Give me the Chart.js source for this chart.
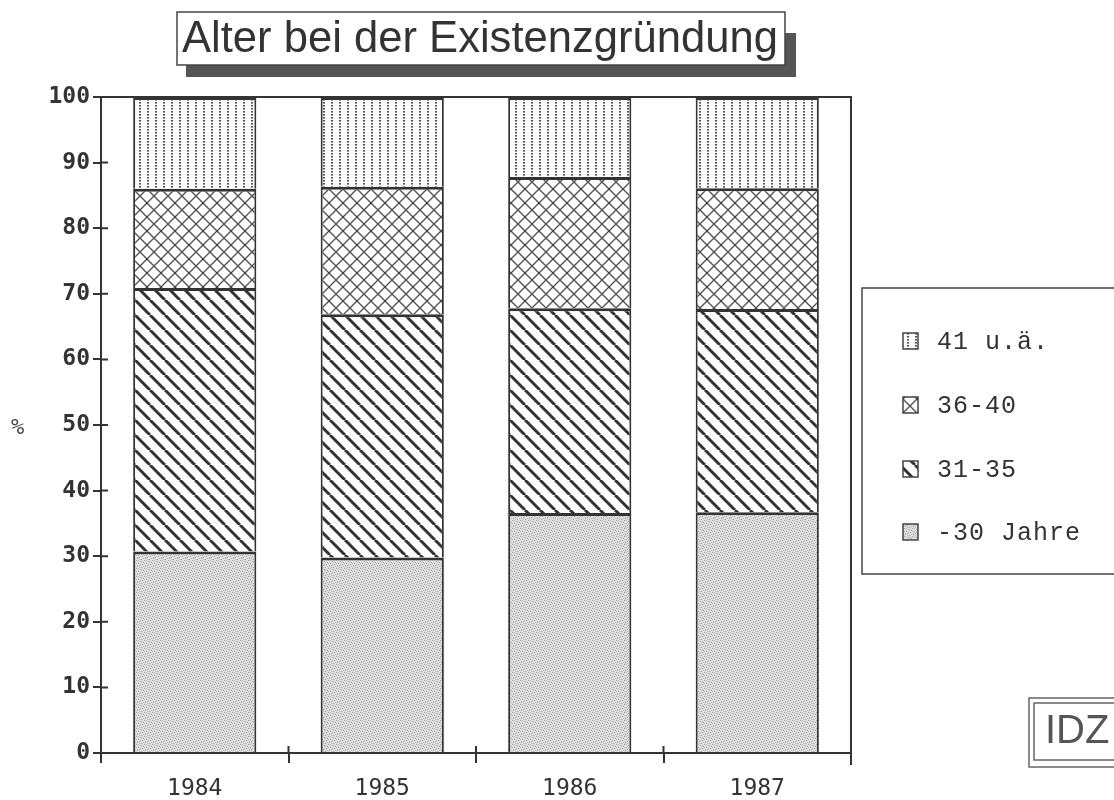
<!DOCTYPE html>
<html>
<head>
<meta charset="utf-8">
<script src="https://cdn.jsdelivr.net/npm/chart.js@4"></script>
<style>
  body { margin: 0; background: #fff; }
  canvas { display: block; }
</style>
</head>
<body>
<canvas id="myChart" width="1114" height="800"></canvas>
<script>
// values (percent per year)
const years = ['1984', '1985', '1986', '1987'];
const seriesLabels = ['-30 Jahre', '31-35', '36-40', '41 u.ä.'];
const under30 = [30.7, 29.8, 36.6, 36.7];
const age31to35 = [40.2, 37.1, 31.2, 31.0];
const age36to40 = [15.1, 19.4, 20.0, 18.4];
const over41 = [14.0, 13.7, 12.2, 13.9];
const yTicks = [0, 10, 20, 30, 40, 50, 60, 70, 80, 90, 100];

const ctx = document.getElementById('myChart').getContext('2d');

function makePattern(w, h, draw) {
    const c = document.createElement('canvas');
    c.width = w;
    c.height = h;
    const g = c.getContext('2d');
    draw(g, w, h);
    return ctx.createPattern(c, 'repeat');
}

// fine grey stipple
const stipple = makePattern(8, 8, (g, w, h) => {
    g.fillStyle = '#dcdcdc';
    g.fillRect(0, 0, w, h);
    g.fillStyle = '#a6a6a6';
    [[0, 0], [4, 1], [2, 3], [6, 4], [1, 6], [5, 7], [3, 5], [7, 2]].forEach(p => g.fillRect(p[0], p[1], 1, 1));
    g.fillStyle = '#c0c0c0';
    [[2, 0], [6, 1], [0, 3], [4, 4], [7, 6], [3, 7], [5, 2], [1, 5]].forEach(p => g.fillRect(p[0], p[1], 1, 1));
});

// diagonal "\" lines
const diagonal = makePattern(15, 15, (g, w, h) => {
    g.fillStyle = '#fff';
    g.fillRect(0, 0, w, h);
    g.strokeStyle = '#333';
    g.lineWidth = 3;
    [-15, 0, 15].forEach(o => {
        g.beginPath();
        g.moveTo(o, 0);
        g.lineTo(o + 15, 15);
        g.stroke();
    });
});

// cross hatch
const crossHatch = makePattern(14, 14, (g, w, h) => {
    g.fillStyle = '#fff';
    g.fillRect(0, 0, w, h);
    g.strokeStyle = '#555';
    g.lineWidth = 1.4;
    g.beginPath();
    g.moveTo(0, 0); g.lineTo(14, 14);
    g.moveTo(14, 0); g.lineTo(0, 14);
    g.stroke();
    g.fillStyle = '#444';
    g.fillRect(6, 6, 2, 2);
});

// vertical dotted lines
const dotted = makePattern(8, 3, (g, w, h) => {
    g.fillStyle = '#fbfbfb';
    g.fillRect(0, 0, w, h);
    g.fillStyle = '#555';
    g.fillRect(3, 0, 2, 1.6);
});

const fills = [stipple, diagonal, crossHatch, dotted];
const values = [under30, age31to35, age36to40, over41];

const datasets = values.map((arr, i) => ({
    label: seriesLabels[i],
    data: arr,
    backgroundColor: fills[i],
    borderColor: '#333',
    borderWidth: { top: 3, left: 2, right: 2, bottom: 0 },
    borderSkipped: false,
    barPercentage: 0.657,
    categoryPercentage: 1
}));

const decorations = {
    id: 'decorations',
    afterDraw(chart) {
        const c = chart.ctx;
        const area = chart.chartArea;
        const x = chart.scales.x;
        const y = chart.scales.y;
        c.save();
        c.strokeStyle = '#333';
        c.lineWidth = 2;

        // frame top and right
        c.beginPath();
        c.moveTo(area.left, area.top);
        c.lineTo(area.right, area.top);
        c.lineTo(area.right, area.bottom + 12);
        c.stroke();

        // inner halves of the "+" ticks
        c.beginPath();
        y.ticks.forEach((t, i) => {
            const py = y.getPixelForTick(i);
            c.moveTo(area.left, py);
            c.lineTo(area.left + 7, py);
        });
        for (let i = 1; i <= years.length; i++) {
            const px = i < years.length
                ? (x.getPixelForTick(i - 1) + x.getPixelForTick(i)) / 2
                : area.right;
            c.moveTo(px, area.bottom);
            c.lineTo(px, area.bottom - 7);
        }
        c.stroke();

        // % label
        c.fillStyle = '#444';
        c.font = '22px "DejaVu Sans Mono"';
        c.textAlign = 'left';
        c.textBaseline = 'middle';
        c.fillText('%', 11, 428);

        // title box with shadow
        c.fillStyle = '#555';
        c.fillRect(186, 65, 610, 12);
        c.fillRect(785, 33, 11, 44);
        c.fillStyle = '#fff';
        c.fillRect(177, 12, 608, 53);
        c.lineWidth = 1.5;
        c.strokeStyle = '#444';
        c.strokeRect(177, 12, 608, 53);
        const title = 'Alter bei der Existenzgründung';
        c.font = '42px "Liberation Sans"';
        const tw = c.measureText(title).width;
        const size = 42 * 596 / tw;
        c.font = size + 'px "Liberation Sans"';
        c.fillStyle = '#333';
        c.textBaseline = 'alphabetic';
        c.fillText(title, 182, 52);

        // legend box
        c.strokeStyle = '#444';
        c.lineWidth = 1.5;
        c.strokeRect(862, 288, 270, 286);
        const rows = [341, 405, 469, 532];
        const order = chart.data.datasets.slice().reverse();
        c.font = '25px "Liberation Mono"';
        c.letterSpacing = '1px';
        c.textBaseline = 'middle';
        order.forEach((ds, i) => {
            c.fillStyle = ds.backgroundColor;
            c.fillRect(903, rows[i] - 8, 15, 16);
            c.strokeStyle = '#444';
            c.lineWidth = 1.5;
            c.strokeRect(903, rows[i] - 8, 15, 16);
            c.fillStyle = '#333';
            c.fillText(ds.label, 937, rows[i] + 1);
        });
        c.letterSpacing = '0px';

        // IDZ mark
        c.strokeStyle = '#666';
        c.lineWidth = 1.5;
        c.strokeRect(1029, 698, 100, 69);
        c.strokeRect(1034, 703, 100, 57);
        c.fillStyle = '#555';
        c.font = '40px "Liberation Sans"';
        c.textBaseline = 'alphabetic';
        c.fillText('IDZ', 1045, 743);
        c.restore();
    }
};

const myChart = new Chart(ctx, {
    type: 'bar',
    data: {
        labels: years,
        datasets: datasets
    },
    options: {
        responsive: false,
        animation: false,
        layout: {
            padding: { top: 97, right: 263, left: 0, bottom: 0 }
        },
        plugins: {
            legend: { display: false },
            tooltip: { enabled: false }
        },
        scales: {
            x: {
                stacked: true,
                grid: {
                    offset: true,
                    drawOnChartArea: false,
                    tickLength: 10,
                    color: '#333',
                    lineWidth: 2
                },
                border: { color: '#333', width: 2 },
                ticks: {
                    padding: 12,
                    color: '#333',
                    font: { family: 'DejaVu Sans Mono', size: 23 }
                },
                afterFit(scale) { scale.height = 47; }
            },
            y: {
                stacked: true,
                min: 0,
                max: 100,
                afterBuildTicks(scale) {
                    scale.ticks = yTicks.map(v => ({ value: v }));
                },
                grid: {
                    drawOnChartArea: false,
                    tickLength: 8,
                    color: '#333',
                    lineWidth: 2
                },
                border: { color: '#333', width: 2 },
                ticks: {
                    padding: 3,
                    color: '#333',
                    font: { family: 'DejaVu Sans Mono', size: 23, weight: 'bold' }
                },
                afterFit(scale) { scale.width = 101; }
            }
        }
    },
    plugins: [decorations]
});
</script>
</body>
</html>
